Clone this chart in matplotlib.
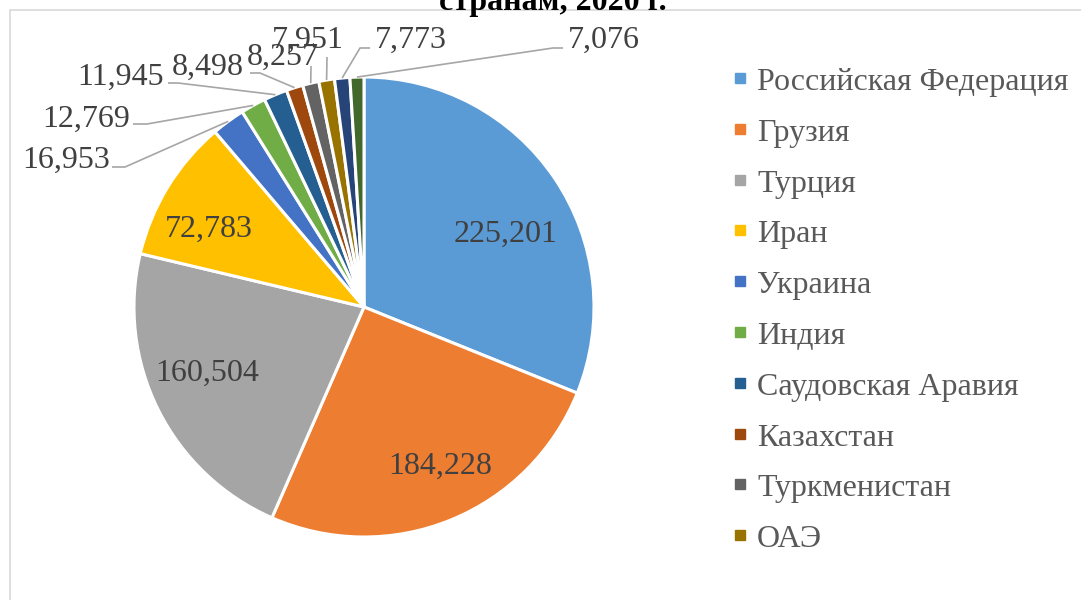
import matplotlib
matplotlib.use('Agg')
import matplotlib.pyplot as plt
import numpy as np
from matplotlib.patches import Rectangle

plt.rcParams['font.family'] = ['Liberation Serif', 'DejaVu Serif']

# ---------------- data ----------------
categories = ['Российская Федерация', 'Грузия', 'Турция', 'Иран', 'Украина',
              'Индия', 'Саудовская Аравия', 'Казахстан', 'Туркменистан', 'ОАЭ',
              'Страна 11', 'Страна 12']
values = [225201, 184228, 160504, 72783, 16953, 12769, 11945, 8498, 8257,
          7951, 7773, 7076]
title = 'странам, 2020 г.'
n_legend = 10  # only the first 10 legend entries are visible

# ---------------- style / layout ----------------
colors = ['#5B9BD5', '#ED7D31', '#A5A5A5', '#FFC000', '#4472C4', '#70AD47',
          '#255E91', '#9E480E', '#636363', '#997300', '#264478', '#43682B']
W, H = 1081, 600
pie_center = (364, 307)      # pixel coords, from top
pie_radius = 230

# inside labels: index -> (center x, baseline y) in pixels from top
inside_labels = {0: (506, 242), 1: (440, 474), 2: (207, 381), 3: (209, 237)}
# outside labels: index -> (left x, baseline y), leader-line points before the edge
outside_labels = {
    4: ((22, 168), [(112, 167), (125, 167)]),
    5: ((42, 127), [(133, 124), (147, 124)]),
    6: ((77, 85), [(168, 83), (178, 83)]),
    7: ((172, 75), [(250, 73), (260, 73)]),
    8: ((247, 65), [(311, 66)]),
    9: ((272, 48), [(327, 57)]),
    10: ((375, 48), [(370, 48), (360, 48)]),
    11: ((568, 48), [(563, 48), (553, 48)]),
}
label_fs = 23
label_color = '#404040'
legend_color = '#595959'
line_color = '#A6A6A6'


def P(x, y):
    """pixel (from top-left) -> data coords"""
    return (x, H - y)


fig = plt.figure(figsize=(W / 100, H / 100), dpi=100)
ax = fig.add_axes([0, 0, 1, 1])

# chart border
ax.add_patch(Rectangle(P(10, 620), 1100, 610, fill=False,
                       edgecolor='#D9D9D9', linewidth=1.2, zorder=0))

cx, cy = P(*pie_center)
wedges, _ = ax.pie(values, colors=colors, startangle=90, counterclock=False,
                   center=(cx, cy), radius=pie_radius,
                   wedgeprops=dict(edgecolor='white', linewidth=2.2))
ax.set_xlim(0, W)
ax.set_ylim(0, H)
ax.set_aspect('equal')
ax.axis('off')

fmt = lambda v: f'{v:,}'

for i, (x, y) in inside_labels.items():
    ax.text(*P(x, y), fmt(values[i]), ha='center', va='baseline',
            fontsize=label_fs, color=label_color)

for i, ((x, y), pts) in outside_labels.items():
    ax.text(*P(x, y), fmt(values[i]), ha='left', va='baseline',
            fontsize=label_fs, color=label_color)
    w = wedges[i]
    mid = np.deg2rad((w.theta1 + w.theta2) / 2)
    ex, ey = cx + pie_radius * np.cos(mid), cy + pie_radius * np.sin(mid)
    xs = [p[0] for p in pts] + [ex]
    ys = [H - p[1] for p in pts] + [ey]
    ax.plot(xs, ys, color=line_color, lw=1.2, solid_capstyle='butt', zorder=3)

# legend (manual)
for i in range(n_legend):
    yb = 90 + i * 50.8
    ax.plot(*P(740, yb - 12), marker='s', markersize=7.5, color=colors[i],
            linestyle='none')
    ax.text(*P(757, yb), categories[i], ha='left', va='baseline',
            fontsize=label_fs, color=legend_color)

# title (top part is cut off in the reference)
ax.text(*P(553, 10), title, ha='center', va='baseline', fontsize=23,
        fontweight='bold', color='black')

fig.savefig('out.png', dpi=100)
